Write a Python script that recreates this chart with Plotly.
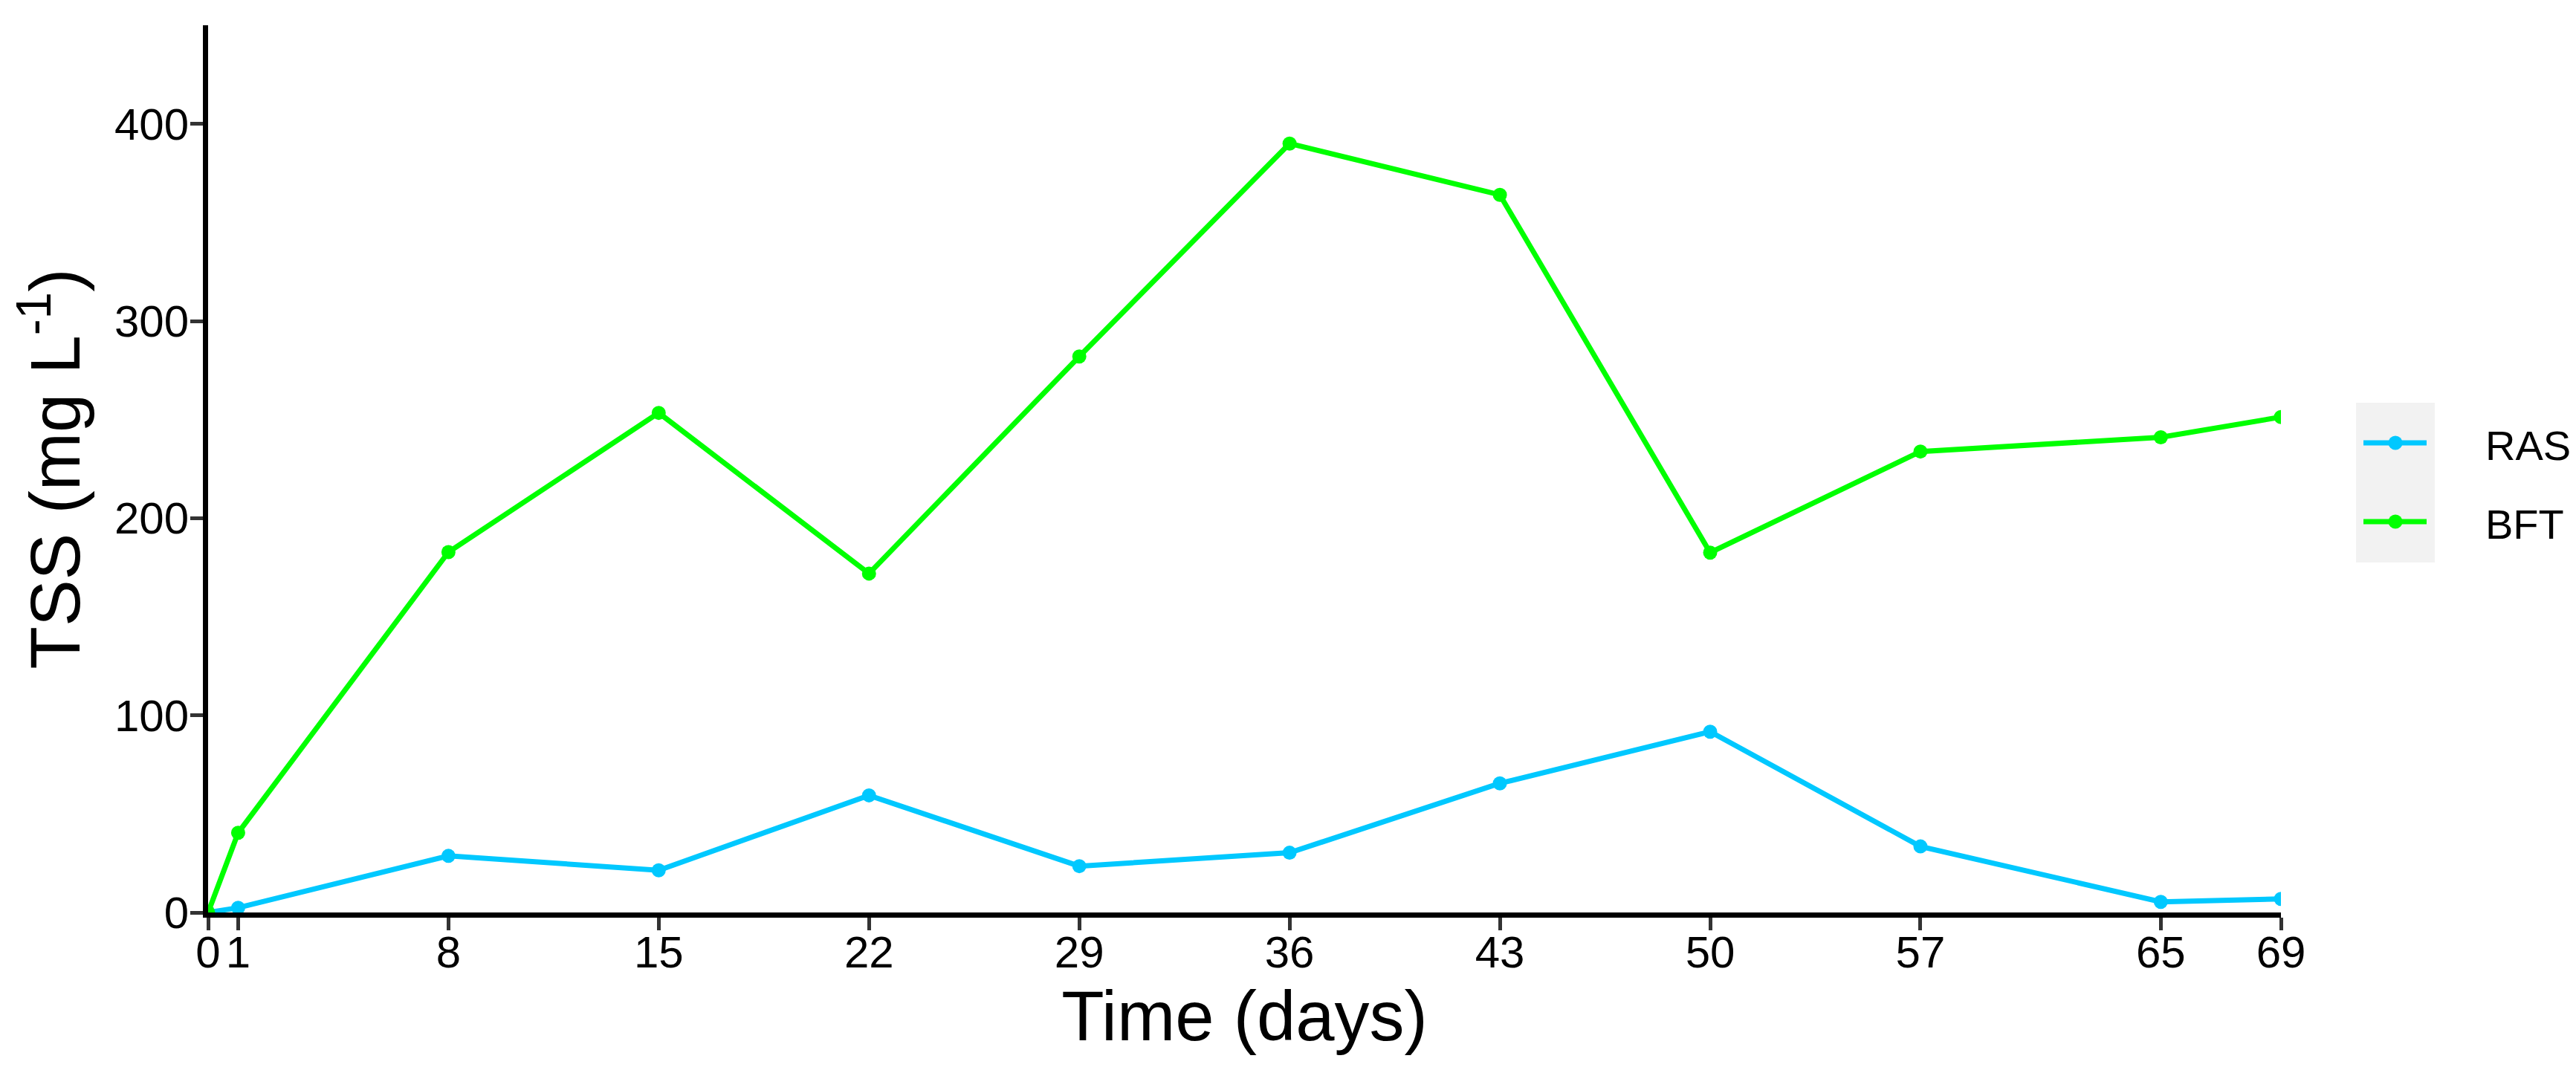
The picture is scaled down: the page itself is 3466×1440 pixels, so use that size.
import plotly.graph_objects as go

# ---- data ----
days = [0, 1, 8, 15, 22, 29, 36, 43, 50, 57, 65, 69]
ras_tss = [0, 2.4, 28.7, 21.4, 59.4, 23.5, 30.3, 65.5, 91.7, 33.5, 5.4, 6.9]
bft_tss = [0, 40.4, 182.8, 253.4, 171.9, 282, 390, 364, 182.5, 233.8, 241, 251.3]
series_names = ["RAS", "BFT"]
series_colors = ["#00C8FF", "#00FF00"]
x_ticks = [0, 1, 8, 15, 22, 29, 36, 43, 50, 57, 65, 69]
y_ticks = [0, 100, 200, 300, 400]

W, H = 3466, 1440
L, R, T, B = 272, 405, 26, 220
FONT = "Arial, Liberation Sans, sans-serif"

fig = go.Figure()
for name, vals, col in zip(series_names, [ras_tss, bft_tss], series_colors):
    fig.add_trace(go.Scatter(
        x=days, y=vals, name=name, mode="lines+markers",
        line=dict(color=col, width=7),
        marker=dict(color=col, size=19),
        showlegend=False,
    ))

pw = W - L - R
ph = H - T - B

def px2paper_x(px):
    return (px - L) / pw

def px2paper_y(py):
    return (H - B - py) / ph

shapes = []
annotations = []
# legend key background
shapes.append(dict(type="rect", xref="paper", yref="paper",
                   x0=px2paper_x(3162), x1=px2paper_x(3268),
                   y0=px2paper_y(749), y1=px2paper_y(534),
                   fillcolor="#F2F2F2", line=dict(width=0), layer="below"))
key_y = [588, 694]
for name, col, ky in zip(series_names, series_colors, key_y):
    yy = px2paper_y(ky)
    shapes.append(dict(type="line", xref="paper", yref="paper",
                       x0=px2paper_x(3172), x1=px2paper_x(3257), y0=yy, y1=yy,
                       line=dict(color=col, width=7)))
    shapes.append(dict(type="circle", xref="paper", yref="paper",
                       xsizemode="pixel", ysizemode="pixel",
                       xanchor=px2paper_x(3215), yanchor=yy,
                       x0=-9.5, x1=9.5, y0=-9.5, y1=9.5,
                       fillcolor=col, line=dict(width=0)))
    annotations.append(dict(xref="paper", yref="paper", x=px2paper_x(3334), y=px2paper_y(ky + 3),
                            text=name, showarrow=False, xanchor="left", yanchor="middle",
                            font=dict(family=FONT, size=56, color="black")))

fig.update_layout(
    width=W, height=H,
    margin=dict(l=L, r=R, t=T, b=B, pad=0),
    paper_bgcolor="white", plot_bgcolor="white",
    font=dict(family=FONT, color="black"),
    shapes=shapes, annotations=annotations,
    xaxis=dict(
        range=[0, 69], tickmode="array", tickvals=x_ticks,
        ticktext=[str(v) for v in x_ticks],
        showgrid=False, zeroline=False,
        showline=True, linecolor="black", linewidth=7,
        ticks="outside", ticklen=17, tickwidth=5, tickcolor="#333333",
        ticklabelstandoff=-22,
        tickfont=dict(family=FONT, size=60, color="black"),
        title=dict(text="Time (days)", font=dict(family=FONT, size=94, color="black"), standoff=20),
    ),
    yaxis=dict(
        range=[0, 450], tickmode="array", tickvals=y_ticks,
        showgrid=False, zeroline=False,
        showline=True, linecolor="black", linewidth=7,
        ticks="outside", ticklen=17, tickwidth=5, tickcolor="#333333",
        ticklabelstandoff=-10,
        tickfont=dict(family=FONT, size=60, color="black"),
        title=dict(text="TSS (mg L<sup>-1</sup>)", font=dict(family=FONT, size=94, color="black"), standoff=26),
    ),
)

fig.write_html("out.html")
